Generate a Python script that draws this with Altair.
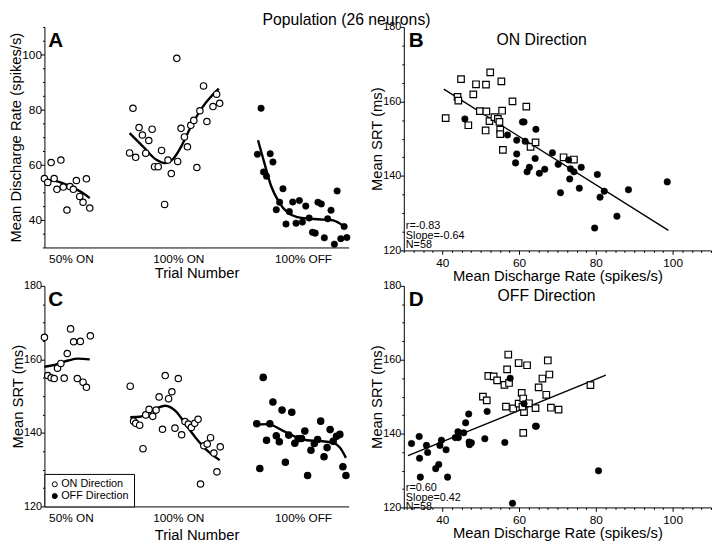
import altair as alt
import pandas as pd

FONT = "Liberation Sans"

# ---------------- data ----------------
group_labels = ["50% ON", "100% ON", "100% OFF"]
group_pos = [8.7, 44.0, 85.0]

# Panel A: mean discharge rate vs trial position
a_on50_x = [0, 1.1, 2.2, 3.2, 4.1, 5.4, 6.2, 7.4, 8.4, 9.5, 10.5, 11.6, 12.7, 13.8, 14.9]
a_on50_y = [55.0, 53.6, 60.8, 55.0, 51.1, 61.7, 51.9, 43.6, 52.1, 51.1, 54.3, 48.5, 46.4, 54.9, 44.3]
a_on100_x = [28.0, 29.1, 30.0, 31.1, 32.2, 33.3, 34.3, 35.4, 36.2, 37.4, 38.5, 39.5, 40.6, 41.7,
             43.5, 43.8, 44.9, 46.0, 47.0, 48.1, 49.1, 50.1, 51.1, 52.3, 53.4, 55.4, 56.6, 57.6]
a_on100_y = [64.3, 80.5, 62.7, 73.5, 70.8, 64.2, 68.8, 72.9, 59.3, 59.3, 65.2, 45.6, 61.7, 56.8,
             98.6, 61.2, 73.2, 70.1, 66.5, 74.3, 76.1, 59.0, 79.6, 88.6, 75.7, 81.1, 85.6, 82.3]
a_off_x = [70.0, 71.2, 72.0, 73.0, 74.2, 75.1, 76.2, 77.3, 78.4, 79.4, 80.5, 81.6, 82.7, 83.8, 84.8,
           85.9, 87.0, 88.1, 89.0, 89.9, 91.0, 92.0, 93.1, 94.2, 95.3, 96.2, 97.4, 98.5, 99.4]
a_off_y = [63.8, 80.5, 57.4, 55.8, 64.0, 61.0, 43.7, 46.4, 51.3, 38.5, 43.0, 46.5, 38.8, 47.0, 39.2,
           45.0, 40.7, 35.5, 35.2, 46.4, 45.8, 33.5, 40.4, 43.5, 31.2, 50.5, 33.2, 37.6, 33.6]
a_fit50_x = [0, 4.5, 8.8, 12.1, 14.9]
a_fit50_y = [54.5, 53.9, 52.0, 50.1, 47.9]
a_fit100_x = [28.0, 32.5, 36.8, 39.5, 42.2, 44.9, 48.1, 51.9, 57.3]
a_fit100_y = [71.5, 66.5, 61.8, 60.6, 62.0, 66.5, 73.7, 80.8, 87.6]
a_fitoff_x = [70.2, 72.3, 74.5, 77.2, 79.9, 83.1, 87.4, 91.7, 94.9, 98.7]
a_fitoff_y = [68.9, 60.6, 52.3, 46.3, 42.7, 41.0, 40.4, 40.1, 39.8, 37.4]

# Panel C: mean SRT vs trial position
c_on50_x = [0, 1.1, 2.2, 3.2, 4.3, 5.4, 6.5, 7.5, 8.6, 9.6, 10.8, 11.8, 12.7, 13.8, 15.1]
c_on50_y = [166.0, 155.6, 155.0, 154.8, 157.6, 158.9, 154.9, 161.6, 168.3, 164.8, 154.8, 164.9, 153.8, 152.4, 166.4]
c_on100_x = [28.2, 29.3, 30.0, 31.3, 32.4, 33.3, 34.4, 35.6, 36.7, 37.7, 38.8, 39.7, 40.8, 41.9, 42.9,
             44.0, 45.1, 46.2, 47.3, 48.3, 49.4, 50.5, 51.3, 52.4, 53.5, 54.6, 55.7, 56.7, 57.8]
c_on100_y = [152.7, 143.2, 142.6, 142.1, 135.7, 144.9, 146.4, 144.5, 146.2, 149.8, 141.0, 155.6, 149.3, 151.2, 141.3,
             154.8, 139.5, 143.1, 142.4, 141.5, 142.6, 143.7, 126.1, 136.5, 137.0, 138.7, 134.5, 129.4, 136.2]
c_off_x = [69.8, 70.8, 71.9, 73.0, 74.1, 75.1, 76.2, 77.2, 78.1, 79.2, 80.3, 81.3, 82.3, 83.4, 84.5,
           85.6, 86.5, 87.6, 88.7, 89.8, 90.8, 91.9, 92.9, 93.9, 94.9, 96.0, 97.1, 98.1, 99.1]
c_off_y = [142.5, 130.3, 155.1, 138.0, 142.5, 148.4, 139.2, 137.6, 146.2, 132.0, 139.4, 145.6, 137.2, 138.4, 138.5,
           140.5, 128.4, 135.3, 137.1, 138.2, 143.2, 133.5, 136.0, 140.9, 137.7, 139.1, 139.6, 130.8, 128.4]
c_fit50_x = [0, 3.4, 7.8, 11.0, 14.9]
c_fit50_y = [158.0, 158.5, 159.7, 160.2, 160.0]
c_fit100_x = [28.2, 31.4, 35.7, 39.7, 43.3, 46.5, 49.7, 53.0, 57.6]
c_fit100_y = [144.3, 144.4, 146.2, 147.4, 145.8, 142.2, 138.7, 135.6, 132.6]
c_fitoff_x = [69.8, 73.4, 77.7, 82.0, 86.3, 90.6, 94.9, 97.1, 99.1]
c_fitoff_y = [142.3, 142.4, 140.9, 139.1, 138.0, 137.8, 137.3, 136.0, 133.2]

# Panel B: ON direction, SRT vs discharge rate
b_sq_x = [40.9, 44.0, 44.2, 44.9, 46.8, 48.1, 48.8, 49.8, 51.3, 51.4, 51.5, 52.5, 52.3, 53.6, 54.5,
          54.9, 55.1, 55.1, 55.4, 55.6, 55.8, 58.3, 61.9, 63.0, 64.3, 71.6, 74.3]
b_sq_y = [155.5, 161.2, 160.2, 166.0, 153.6, 161.9, 164.6, 157.4, 152.2, 164.5, 157.3, 167.8, 154.7, 155.8, 155.3,
          154.5, 152.4, 151.2, 165.4, 157.5, 147.0, 160.0, 158.6, 147.8, 149.0, 145.0, 144.4]
b_dot_x = [45.9, 57.0, 59.4, 59.4, 59.1, 60.9, 61.3, 61.6, 62.1, 62.7, 64.4, 64.2, 65.3, 66.7, 68.7,
           70.2, 70.8, 72.9, 73.2, 73.4, 74.3, 76.2, 75.7, 79.7, 80.4, 81.1, 82.2, 85.5, 88.5, 98.6]
b_dot_y = [155.3, 151.0, 149.6, 145.9, 143.5, 154.5, 154.5, 149.3, 141.1, 142.3, 152.5, 144.7, 140.7, 141.8, 146.2,
           143.1, 135.5, 144.3, 139.2, 141.9, 141.1, 142.3, 136.7, 126.0, 140.4, 134.3, 135.9, 129.2, 136.3, 138.4]
b_fit_x = [40.4, 98.9]
b_fit_y = [163.3, 125.4]
b_stats = "r=-0.83\nSlope=-0.64\nN=58"

# Panel D: OFF direction, SRT vs discharge rate
d_sq_x = [50.6, 51.6, 52.0, 53.4, 54.3, 56.2, 56.6, 56.9, 57.2, 57.4, 58.5, 59.9, 59.9, 60.7, 61.1,
          61.1, 61.3, 60.9, 62.1, 62.6, 64.3, 65.1, 66.1, 67.1, 67.5, 67.9, 68.3, 70.3, 78.6]
d_sq_y = [150.0, 149.0, 155.6, 155.5, 154.4, 153.2, 147.3, 157.4, 161.4, 153.7, 146.8, 159.1, 148.1, 151.0, 149.5,
          140.2, 145.8, 147.3, 158.5, 148.2, 146.9, 152.5, 154.9, 150.5, 159.8, 156.0, 147.0, 146.5, 153.1]
d_dot_x = [32.0, 34.0, 34.1, 34.3, 35.9, 36.2, 38.3, 39.1, 39.4, 39.8, 41.0, 41.4, 43.4, 44.1, 44.2,
           45.6, 46.1, 46.9, 47.0, 47.1, 47.6, 51.1, 51.7, 56.3, 57.7, 58.3, 61.3, 64.3, 64.5, 80.7]
d_dot_y = [137.3, 139.2, 133.3, 128.2, 136.8, 134.9, 130.5, 131.6, 136.8, 138.2, 135.6, 128.2, 138.9, 140.5, 138.9,
           140.2, 142.9, 145.3, 137.7, 137.0, 137.5, 138.6, 146.0, 137.6, 155.0, 121.1, 148.1, 142.0, 142.0, 129.9]
d_fit_x = [31.1, 82.6]
d_fit_y = [134.0, 155.8]
d_stats = "r=0.60\nSlope=0.42\nN=58"

dir_labels = ["ON Direction", "OFF Direction"]


# ---------------- helpers ----------------
def frame(xs, ys, **extra):
    d = pd.DataFrame({"x": xs, "y": ys})
    for k, v in extra.items():
        d[k] = v
    return d


def lines(*pairs):
    parts = [frame(xs, ys, g=str(i)) for i, (xs, ys) in enumerate(pairs)]
    return pd.concat(parts, ignore_index=True)


label_expr = " : ".join(f"datum.value == {p} ? '{l}'" for p, l in zip(group_pos, group_labels)) + " : ''"


def x_trial(title_pad):
    return alt.X("x:Q", scale=alt.Scale(domain=[0, 100], nice=False, zero=False),
                 axis=alt.Axis(values=group_pos, labelExpr=label_expr, ticks=False,
                               title="Trial Number", labelFontSize=12, labelPadding=6,
                               titlePadding=title_pad, grid=False, labelOverlap=False, labelFlush=False))


def x_rate():
    vals = [30 + 2.5 * i for i in range(33)]
    return alt.X("x:Q", scale=alt.Scale(domain=[30, 110], nice=False, zero=False),
                 axis=alt.Axis(values=vals,
                               labelExpr="datum.value % 20 === 0 && datum.value >= 40 && datum.value <= 100 ? datum.label : ''",
                               tickSize={"condition": {"test": "datum.value % 20 === 0", "value": 4}, "value": 2},
                               title="Mean Discharge Rate (spikes/s)", labelFontSize=12, labelPadding=3,
                               titlePadding=1, grid=False, labelOverlap=False, labelFlush=False))


def y_axis(lo, hi, title, fs):
    vals = list(range(lo, hi + 1, 5))
    if lo == 30:
        expr = "datum.value % 20 === 0 && datum.value >= 40 && datum.value <= 100 ? datum.label : ''"
    else:
        expr = "datum.value % 20 === 0 ? datum.label : ''"
    return alt.Y("y:Q", scale=alt.Scale(domain=[lo, hi], nice=False, zero=False),
                 axis=alt.Axis(values=vals, labelExpr=expr,
                               tickSize={"condition": {"test": "datum.value % 20 === 0", "value": 4}, "value": 2},
                               title=title, labelFontSize=fs, labelPadding=-1, titlePadding=-2,
                               grid=False, labelOverlap=False, labelFlush=False))


def open_pts(data, x, y, shape="circle", size=42):
    return alt.Chart(data).mark_point(shape=shape, filled=True, fill="white", stroke="black",
                                      strokeWidth=1.2, size=size, opacity=1).encode(x=x, y=y)


def dots(data, x, y, size=44):
    return alt.Chart(data).mark_point(shape="circle", filled=True, fill="black", stroke="black",
                                      strokeWidth=0.5, size=size, opacity=1).encode(x=x, y=y)


def curves(data, x, y, width=2.4, interp="monotone"):
    return alt.Chart(data).mark_line(color="black", strokeWidth=width, interpolate=interp).encode(
        x=x, y=y, detail="g:N")


def label_text(txt, px, py, size, weight="normal", align="left"):
    return alt.Chart(alt.Data(values=[{"t": txt}])).mark_text(
        font=FONT, fontSize=size, fontWeight=weight, align=align, baseline="alphabetic", color="black"
    ).encode(x=alt.value(px), y=alt.value(py), text="t:N")


def stats_text(txt, py):
    return alt.Chart(alt.Data(values=[{"t": txt}])).mark_text(
        font=FONT, fontSize=11, align="left", baseline="top", lineBreak="\n", lineHeight=10,
        color="black").encode(x=alt.value(2), y=alt.value(py), text="t:N")


# ---------------- panel A ----------------
xa, ya = x_trial(2), y_axis(30, 110, "Mean Discharge Rate (spikes/s)", 12)
panelA = alt.layer(
    curves(lines((a_fit50_x, a_fit50_y), (a_fit100_x, a_fit100_y), (a_fitoff_x, a_fitoff_y)), xa, ya),
    open_pts(frame(a_on50_x + a_on100_x, a_on50_y + a_on100_y), xa, ya),
    dots(frame(a_off_x, a_off_y), xa, ya),
    label_text("A", 4, 20, 21, "bold"),
).properties(width=309, height=224)

# ---------------- panel B ----------------
xb, yb = x_rate(), y_axis(120, 180, "Mean SRT (ms)", 11)
panelB = alt.layer(
    curves(frame(b_fit_x, b_fit_y, g="fit"), xb, yb, width=1.4, interp="linear"),
    open_pts(frame(b_sq_x, b_sq_y), xb, yb, shape="square", size=44),
    dots(frame(b_dot_x, b_dot_y), xb, yb),
    label_text("B", 5, 20, 21, "bold"),
    label_text("ON Direction", 140, 18, 16, align="center"),
    stats_text(b_stats, 196),
).properties(width=312, height=227)

# ---------------- panel C ----------------
xc, yc = x_trial(5), y_axis(120, 180, "Mean SRT (ms)", 11)
c_pts = pd.concat([
    frame(c_on50_x + c_on100_x, c_on50_y + c_on100_y, dir=dir_labels[0]),
    frame(c_off_x, c_off_y, dir=dir_labels[1]),
], ignore_index=True)
panelC = alt.layer(
    curves(lines((c_fit50_x, c_fit50_y), (c_fit100_x, c_fit100_y), (c_fitoff_x, c_fitoff_y)), xc, yc),
    alt.Chart(c_pts).mark_point(shape="circle", filled=True, stroke="black", strokeWidth=1.2,
                                size=42, opacity=1).encode(
        x=xc, y=yc,
        fill=alt.Fill("dir:N", scale=alt.Scale(domain=dir_labels, range=["white", "black"]),
                      legend=alt.Legend(title=None, orient="bottom-left", offset=0, padding=5,
                                        strokeColor="black", fillColor="white", cornerRadius=0,
                                        labelFont=FONT, labelFontSize=11, labelColor="black",
                                        symbolType="circle", symbolSize=26, symbolStrokeColor="black",
                                        symbolStrokeWidth=1, rowPadding=0, labelOffset=1, labelLimit=200))),
    label_text("C", 4, 20, 21, "bold"),
).properties(width=309, height=224)

# ---------------- panel D ----------------
xd, yd = x_rate(), y_axis(120, 180, "Mean SRT (ms)", 11)
panelD = alt.layer(
    curves(frame(d_fit_x, d_fit_y, g="fit"), xd, yd, width=1.4, interp="linear"),
    open_pts(frame(d_sq_x, d_sq_y), xd, yd, shape="square", size=44),
    dots(frame(d_dot_x, d_dot_y), xd, yd),
    label_text("D", 5, 20, 21, "bold"),
    label_text("OFF Direction", 145, 15, 16, align="center"),
    stats_text(d_stats, 199),
).properties(width=312, height=225)

chart = alt.concat(
    panelA, panelB, panelC, panelD,
    columns=2, spacing={"row": 36, "column": 56}, bounds="flush",
    title=alt.TitleParams(text="Population (26 neurons)", fontSize=16, fontWeight="normal",
                          font=FONT, color="black", anchor="middle", dx=-14, offset=-7),
    padding=0,
).resolve_scale(fill="independent").resolve_legend(fill="independent").configure(font=FONT).configure_view(
    stroke=None
).configure_axis(
    domainColor="black", tickColor="black", labelColor="black", titleColor="black",
    titleFontSize=15, titleFontWeight="normal", labelFont=FONT, titleFont=FONT,
    domainWidth=1, tickWidth=1,
)

chart.save("out.html", embed_options={"renderer": "svg", "actions": False})
